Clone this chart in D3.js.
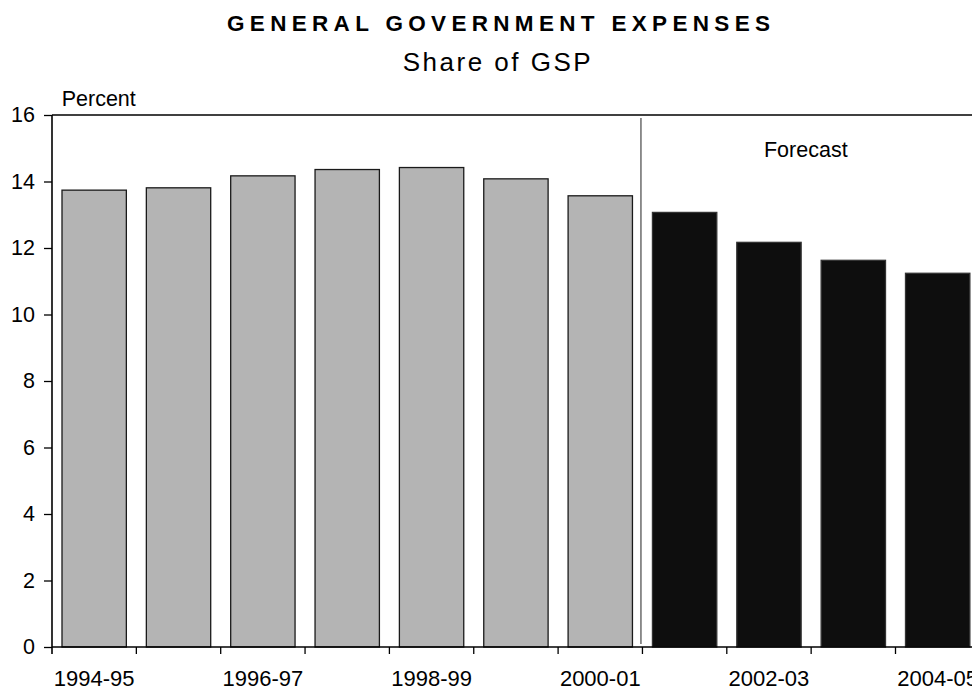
<!DOCTYPE html>
<html>
<head>
<meta charset="utf-8">
<script src="https://cdn.jsdelivr.net/npm/d3@7"></script>
<style>
  html, body { margin: 0; padding: 0; background: #fff; }
  svg { display: block; font-family: "Liberation Sans", Arial, Helvetica, sans-serif; }
</style>
</head>
<body>
<div id="chart"></div>
<script>
// General government expenses as a share of GSP, per financial year
const years = ["1994-95", "1995-96", "1996-97", "1997-98", "1998-99", "1999-00",
               "2000-01", "2001-02", "2002-03", "2003-04", "2004-05"];
const expenseShare = [13.74, 13.81, 14.17, 14.36, 14.42, 14.08, 13.57, 13.07, 12.17, 11.63, 11.24];
const forecastFrom = "2001-02";
const xTickLabels = ["1994-95", "1996-97", "1998-99", "2000-01", "2002-03", "2004-05"];
const yTicks = [0, 2, 4, 6, 8, 10, 12, 14, 16];

const W = 972, H = 691;
const plotLeft = 52, plotTop = 115, plotBottom = 647;
const step = 84.35;
const plotRight = plotLeft + step * years.length;   // plot runs past the page edge
const labelSize = 21.5;

const svg = d3.select("#chart").append("svg")
  .attr("width", W).attr("height", H);

const x = d3.scaleBand().domain(years)
  .range([plotLeft, plotRight]).paddingInner(0.237).paddingOuter(0.1185);
const y = d3.scaleLinear().domain([0, 16]).range([plotBottom, plotTop]);

const isForecast = d => years.indexOf(d) >= years.indexOf(forecastFrom);

// Title and subtitle
svg.append("text")
  .attr("x", 498.5).attr("y", 31)
  .attr("text-anchor", "middle")
  .attr("font-size", 22.5).attr("font-weight", "bold")
  .attr("textLength", 543).attr("lengthAdjust", "spacing")
  .text("GENERAL GOVERNMENT EXPENSES");

svg.append("text")
  .attr("x", 496.7).attr("y", 71)
  .attr("text-anchor", "middle")
  .attr("font-size", 26)
  .attr("textLength", 188).attr("lengthAdjust", "spacing")
  .text("Share of GSP");

svg.append("text")
  .attr("x", 61.7).attr("y", 105.7)
  .attr("font-size", labelSize)
  .text("Percent");

// Plot top border
svg.append("line")
  .attr("x1", plotLeft).attr("x2", W)
  .attr("y1", plotTop).attr("y2", plotTop)
  .attr("stroke", "#000").attr("stroke-width", 1.3);

// Bars
svg.append("g").selectAll("rect")
  .data(years.map((d, i) => ({ year: d, value: expenseShare[i] })))
  .join("rect")
  .attr("x", d => x(d.year))
  .attr("width", x.bandwidth())
  .attr("y", d => y(d.value))
  .attr("height", d => y(0) - y(d.value))
  .attr("fill", d => isForecast(d.year) ? "#0e0e0e" : "#b4b4b4")
  .attr("stroke", d => isForecast(d.year) ? "#333" : "#1a1a1a")
  .attr("stroke-width", 1.3);

// Divider marking the start of the forecast period
const divX = x(forecastFrom) - x.step() * x.paddingInner() / 2 - 1.5;
svg.append("line")
  .attr("x1", divX).attr("x2", divX)
  .attr("y1", 118).attr("y2", plotBottom - 3)
  .attr("stroke", "#555").attr("stroke-width", 1.3);

svg.append("text")
  .attr("x", 805.8).attr("y", 156.7)
  .attr("text-anchor", "middle")
  .attr("font-size", labelSize)
  .text("Forecast");

// Y axis
const yAxis = svg.append("g")
  .attr("transform", `translate(${plotLeft},0)`)
  .call(d3.axisLeft(y).tickValues(yTicks).tickSize(8).tickPadding(9).tickFormat(d3.format("d")));
yAxis.select(".domain").attr("stroke-width", 1.6).attr("d", `M0,${plotTop}V${plotBottom + 7}`);
yAxis.selectAll(".tick line").attr("stroke-width", 1.3);
yAxis.selectAll(".tick text").attr("font-size", labelSize).attr("font-family", null).attr("fill", "#000");

// X axis: ticks on the category boundaries, labels every second year
const xg = svg.append("g");
xg.append("line")
  .attr("x1", plotLeft).attr("x2", W)
  .attr("y1", plotBottom).attr("y2", plotBottom)
  .attr("stroke", "#000").attr("stroke-width", 1.6);
const bounds = d3.range(1, years.length + 1).map(i => plotLeft + x.step() * i);
xg.selectAll(".xt").data(bounds).join("line")
  .attr("class", "xt")
  .attr("x1", d => d).attr("x2", d => d)
  .attr("y1", plotBottom).attr("y2", plotBottom + 7)
  .attr("stroke", "#000").attr("stroke-width", 1.3);
xg.selectAll(".xl").data(xTickLabels).join("text")
  .attr("class", "xl")
  .attr("x", d => x(d) + x.bandwidth() / 2)
  .attr("y", 686)
  .attr("text-anchor", "middle")
  .attr("font-size", 22)
  .text(d => d);
</script>
</body>
</html>
